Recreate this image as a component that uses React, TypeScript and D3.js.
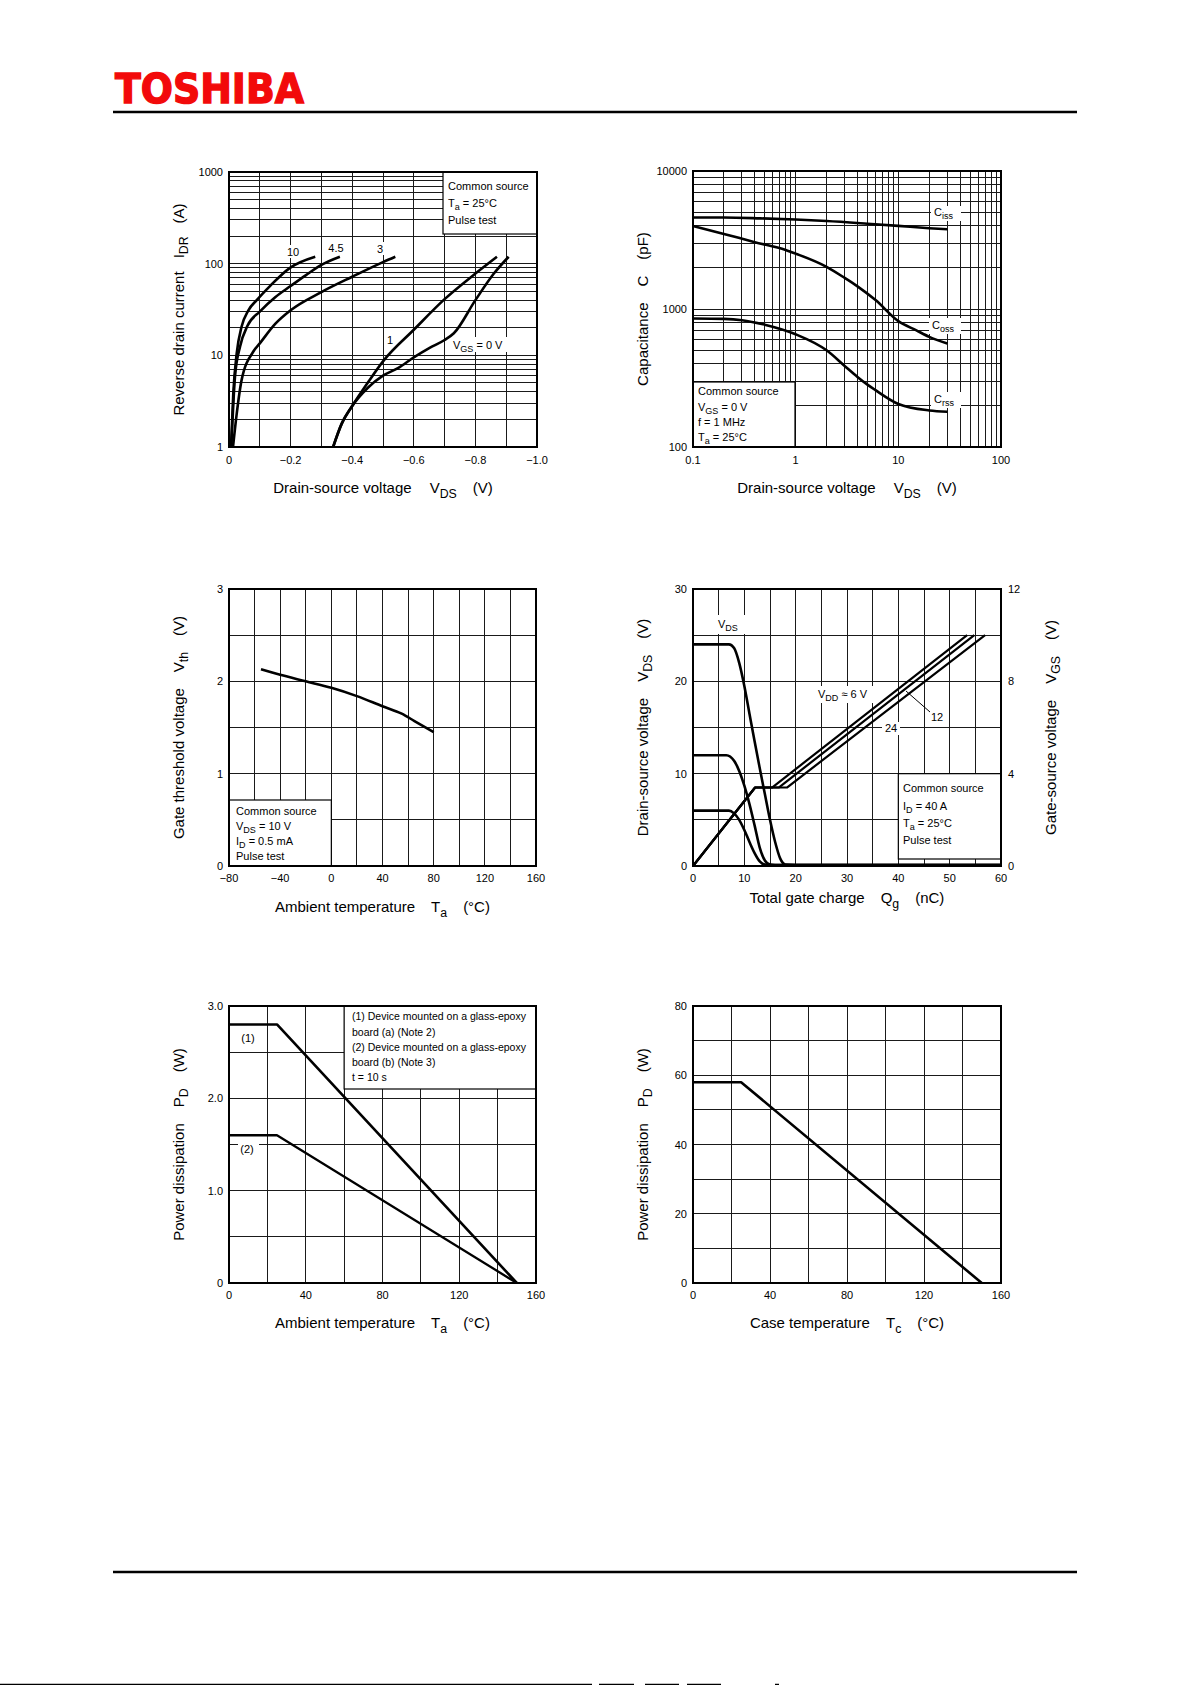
import React from 'react';
import * as d3 from 'd3';

type Pt = [number, number];

// ===== Chart 1: Reverse drain current vs VDS (|VDS|, V ; IDR, A) =====
const idrVgs10: Pt[] = [[0.0065, 1], [0.014, 3.9], [0.025, 10.5], [0.041, 20.6], [0.063, 31], [0.09, 40], [0.133, 57], [0.198, 90], [0.28, 119]];
const idrVgs45: Pt[] = [[0.0075, 1], [0.0195, 5.9], [0.036, 12.5], [0.06, 21], [0.1, 30], [0.15, 43], [0.2, 57], [0.25, 75], [0.3, 97], [0.36, 119]];
const idrVgs3: Pt[] = [[0.013, 1], [0.025, 2.3], [0.041, 5.4], [0.079, 11], [0.1, 13.5], [0.15, 22], [0.2, 31], [0.3, 49], [0.4, 72], [0.5, 104], [0.54, 119]];
const idrVgs1: Pt[] = [[0.338, 1], [0.366, 1.8], [0.4, 2.8], [0.45, 5.0], [0.5, 8.6], [0.6, 19], [0.7, 41], [0.8, 78], [0.87, 119]];
const idrVgs0: Pt[] = [[0.338, 1], [0.366, 1.8], [0.4, 2.8], [0.45, 4.4], [0.5, 6.0], [0.55, 7.3], [0.6, 9.5], [0.65, 12], [0.7, 14.7], [0.73, 17.4], [0.8, 40], [0.86, 78], [0.908, 119]];
const idrXTicks = [0, 0.2, 0.4, 0.6, 0.8, 1.0];
const idrXTickLabels = ['0', '\u22120.2', '\u22120.4', '\u22120.6', '\u22120.8', '\u22121.0'];
const idrYTicks = [1, 10, 100, 1000];

// ===== Chart 2: Capacitance vs VDS =====
const capCiss: Pt[] = [[0.1, 4600], [0.2, 4600], [0.45, 4540], [1, 4450], [2, 4340], [5, 4150], [10, 4000], [20, 3850], [30, 3780]];
const capCoss: Pt[] = [[0.1, 3990], [0.2, 3500], [0.4, 3050], [0.8, 2680], [1, 2520], [2, 2020], [3, 1680], [4, 1460], [6, 1160], [10, 817], [15, 700], [20, 628], [30, 562]];
const capCrss: Pt[] = [[0.1, 853], [0.2, 848], [0.3, 830], [0.5, 770], [1, 656], [2, 502], [3, 387], [4, 322], [5, 283], [6, 258], [10, 205], [20, 184], [30, 180]];
const capXTicks = [0.1, 1, 10, 100];
const capYTicks = [100, 1000, 10000];

// ===== Chart 3: Gate threshold voltage vs Ta =====
const vthCurve: Pt[] = [[-55, 2.13], [-40, 2.07], [-20, 2.0], [0, 1.93], [20, 1.84], [40, 1.73], [55, 1.65], [65, 1.57], [80, 1.45]];
const vthXTicks = [-80, -40, 0, 40, 80, 120, 160];
const vthYTicks = [0, 1, 2, 3];

// ===== Chart 4: Gate charge =====
const qgVds24: Pt[] = [[0, 24], [7, 24], [8, 23.6], [9, 22], [10, 19.5], [11, 16.5], [12, 13.5], [13, 10.6], [14, 7.8], [15, 5.0], [16, 2.6], [17, 0.8], [18, 0.15], [20, 0.1], [60, 0.1]];
const qgVds12: Pt[] = [[0, 12], [6.5, 12], [8, 11.4], [9, 10.3], [10, 8.7], [11, 6.7], [12, 4.4], [13, 2.0], [14, 0.6], [15, 0.15], [16, 0.1], [60, 0.1]];
const qgVds6: Pt[] = [[0, 6], [7, 6], [8, 5.7], [9, 5.0], [10, 3.9], [11, 2.6], [12, 1.4], [13, 0.5], [14, 0.15], [15, 0.1], [60, 0.1]];
const qgVgs6: Pt[] = [[0, 0], [12.1, 3.4], [15.4, 3.4], [53.4, 10]];
const qgVgs12: Pt[] = [[0, 0], [12.1, 3.4], [16.7, 3.4], [54.8, 10]];
const qgVgs24: Pt[] = [[0, 0], [12.1, 3.4], [18.3, 3.4], [56.9, 10]];
const qgXTicks = [0, 10, 20, 30, 40, 50, 60];
const qgYLeftTicks = [0, 10, 20, 30];
const qgYRightTicks = [0, 4, 8, 12];

// ===== Chart 5: PD vs Ta =====
const pdaBoardA: Pt[] = [[0, 2.8], [25, 2.8], [150, 0]];
const pdaBoardB: Pt[] = [[0, 1.6], [25, 1.6], [150, 0]];
const pdaXTicks = [0, 40, 80, 120, 160];
const pdaYTicks = [0, 1, 2, 3];
const pdaYTickLabels = ['0', '1.0', '2.0', '3.0'];

// ===== Chart 6: PD vs Tc =====
const pdcCurve: Pt[] = [[0, 58], [25, 58], [150, 0]];
const pdcXTicks = [0, 40, 80, 120, 160];
const pdcYTicks = [0, 20, 40, 60, 80];

const FONT = "'Liberation Sans', Arial, Helvetica, sans-serif";
const W = 1191;
const H = 1685;

type Part = { t: string; sub?: boolean; dx?: number };
type R = { x: number; y: number; w: number; h: number };

function Txt({ x, y, parts, size = 11, anchor = 'start', rotate = false }: { x: number; y: number; parts: Part[]; size?: number; anchor?: string; rotate?: boolean }) {
  const sd = size * 0.3;
  let cur = 0;
  const kids = parts.map((p, i) => {
    const target = p.sub ? sd : 0;
    const dy = target - cur;
    cur = target;
    return (
      <tspan key={i} dx={p.dx || 0} dy={dy} fontSize={p.sub ? size * 0.82 : size}>
        {p.t}
      </tspan>
    );
  });
  return (
    <text
      x={x}
      y={y}
      fontSize={size}
      textAnchor={anchor as any}
      fontFamily={FONT}
      fill="#000"
      style={{ whiteSpace: 'pre' }}
      transform={rotate ? `rotate(-90 ${x} ${y})` : undefined}
    >
      {kids}
    </text>
  );
}

function logGrid(lo: number, hi: number): number[] {
  const out: number[] = [];
  for (let d = lo; d < hi; d *= 10) {
    for (let k = 1; k < 10; k++) {
      const v = k * d;
      if (v > lo * 1.0001 && v < hi * 0.9999) out.push(v);
    }
  }
  return out;
}

function Grid({ r, xs, ys, sx, sy }: { r: R; xs: number[]; ys: number[]; sx: (v: number) => number; sy: (v: number) => number }) {
  return (
    <g stroke="#1a1a1a" strokeWidth={1} shapeRendering="crispEdges">
      {xs.map((v, i) => (
        <line key={'x' + i} x1={sx(v)} x2={sx(v)} y1={r.y} y2={r.y + r.h} />
      ))}
      {ys.map((v, i) => (
        <line key={'y' + i} x1={r.x} x2={r.x + r.w} y1={sy(v)} y2={sy(v)} />
      ))}
    </g>
  );
}

function Frame({ r }: { r: R }) {
  return <rect x={r.x} y={r.y} width={r.w} height={r.h} fill="none" stroke="#000" strokeWidth={2} />;
}

function Curve({ data, sx, sy, curve = d3.curveMonotoneX, w = 2.6 }: { data: Pt[]; sx: (v: number) => number; sy: (v: number) => number; curve?: any; w?: number }) {
  const gen = d3
    .line<Pt>()
    .x((d) => sx(d[0]))
    .y((d) => sy(d[1]))
    .curve(curve);
  return <path d={gen(data) || ''} fill="none" stroke="#000" strokeWidth={w} strokeLinejoin="round" />;
}

function Box({ x, y, w, h }: { x: number; y: number; w: number; h: number }) {
  return <rect x={x} y={y} width={w} height={h} fill="#fff" stroke="#000" strokeWidth={1.2} />;
}

function Blank({ x, y, w, h }: { x: number; y: number; w: number; h: number }) {
  return <rect x={x} y={y} width={w} height={h} fill="#fff" />;
}

function XTicks({ r, vals, labels, sx, dy = 17 }: { r: R; vals: number[]; labels: string[]; sx: (v: number) => number; dy?: number }) {
  return (
    <g>
      {vals.map((v, i) => (
        <Txt key={i} x={sx(v)} y={r.y + r.h + dy} parts={[{ t: labels[i] }]} anchor="middle" />
      ))}
    </g>
  );
}

function YTicks({ x, vals, labels, sy, anchor = 'end' }: { x: number; vals: number[]; labels: string[]; sy: (v: number) => number; anchor?: string }) {
  return (
    <g>
      {vals.map((v, i) => (
        <Txt key={i} x={x} y={sy(v) + 4} parts={[{ t: labels[i] }]} anchor={anchor} />
      ))}
    </g>
  );
}

function ChartIdr() {
  const r: R = { x: 229, y: 172, w: 308, h: 275 };
  const sx = d3.scaleLinear().domain([0, 1]).range([r.x, r.x + r.w]);
  const sy = d3.scaleLog().domain([1, 1000]).range([r.y + r.h, r.y]);
  const gx = d3.range(1, 10).map((i) => i / 10);
  const gy = [...logGrid(1, 1000), 10, 100];
  return (
    <g>
      <Grid r={r} xs={gx} ys={gy} sx={sx} sy={sy} />
      <Box x={443} y={r.y} w={r.x + r.w - 443} h={62} />
      <Txt x={448} y={190} parts={[{ t: 'Common source' }]} />
      <Txt x={448} y={207} parts={[{ t: 'T' }, { t: 'a', sub: true }, { t: ' = 25°C' }]} />
      <Txt x={448} y={224} parts={[{ t: 'Pulse test' }]} />
      <Blank x={285} y={245} w={16} h={13} />
      <Blank x={327} y={241} w={18} h={13} />
      <Blank x={376} y={242} w={9} h={13} />
      <Blank x={386} y={333} w={9} h={13} />
      <Blank x={451} y={337} w={57} h={15} />
      {[idrVgs10, idrVgs45, idrVgs3, idrVgs1, idrVgs0].map((d, i) => (
        <Curve key={i} data={d} sx={sx} sy={sy} />
      ))}
      <Txt x={293} y={256} parts={[{ t: '10' }]} anchor="middle" />
      <Txt x={336} y={252} parts={[{ t: '4.5' }]} anchor="middle" />
      <Txt x={380} y={253} parts={[{ t: '3' }]} anchor="middle" />
      <Txt x={390} y={344} parts={[{ t: '1' }]} anchor="middle" />
      <Txt x={453} y={349} parts={[{ t: 'V' }, { t: 'GS', sub: true }, { t: ' = 0 V' }]} />
      <Frame r={r} />
      <XTicks r={r} vals={idrXTicks} labels={idrXTickLabels} sx={sx} />
      <YTicks x={r.x - 6} vals={idrYTicks} labels={idrYTicks.map(String)} sy={sy} />
      <Txt x={183.5} y={r.y + r.h / 2} rotate anchor="middle" size={15}
        parts={[{ t: 'Reverse drain current' }, { t: 'I', dx: 13 }, { t: 'DR', sub: true }, { t: '(A)', dx: 13 }]} />
      <Txt x={r.x + r.w / 2} y={r.y + r.h + 46} anchor="middle" size={15}
        parts={[{ t: 'Drain-source voltage' }, { t: 'V', dx: 18 }, { t: 'DS', sub: true }, { t: '(V)', dx: 16 }]} />
    </g>
  );
}

function ChartCap() {
  const r: R = { x: 693, y: 171, w: 308, h: 276 };
  const sx = d3.scaleLog().domain([0.1, 100]).range([r.x, r.x + r.w]);
  const sy = d3.scaleLog().domain([100, 10000]).range([r.y + r.h, r.y]);
  const gx = [...logGrid(0.1, 100), 1, 10];
  const gy = [...logGrid(100, 10000), 1000];
  return (
    <g>
      <Grid r={r} xs={gx} ys={gy} sx={sx} sy={sy} />
      <Box x={r.x} y={382} w={102} h={r.y + r.h - 382} />
      <Txt x={698} y={395} parts={[{ t: 'Common source' }]} />
      <Txt x={698} y={411} parts={[{ t: 'V' }, { t: 'GS', sub: true }, { t: ' = 0 V' }]} />
      <Txt x={698} y={426} parts={[{ t: 'f = 1 MHz' }]} />
      <Txt x={698} y={441} parts={[{ t: 'T' }, { t: 'a', sub: true }, { t: ' = 25°C' }]} />
      <Blank x={931} y={206} w={30} h={15} />
      <Blank x={929} y={318} w={32} h={16} />
      <Blank x={931} y={392} w={30} h={16} />
      {[capCiss, capCoss, capCrss].map((d, i) => (
        <Curve key={i} data={d} sx={sx} sy={sy} />
      ))}
      <Txt x={934} y={216} parts={[{ t: 'C' }, { t: 'iss', sub: true }]} />
      <Txt x={932} y={329} parts={[{ t: 'C' }, { t: 'oss', sub: true }]} />
      <Txt x={934} y={403} parts={[{ t: 'C' }, { t: 'rss', sub: true }]} />
      <Frame r={r} />
      <XTicks r={r} vals={capXTicks} labels={capXTicks.map(String)} sx={sx} />
      <YTicks x={r.x - 6} vals={capYTicks} labels={capYTicks.map(String)} sy={sy} />
      <Txt x={647.5} y={r.y + r.h / 2} rotate anchor="middle" size={15}
        parts={[{ t: 'Capacitance' }, { t: 'C', dx: 16 }, { t: '(pF)', dx: 16 }]} />
      <Txt x={r.x + r.w / 2} y={r.y + r.h + 46} anchor="middle" size={15}
        parts={[{ t: 'Drain-source voltage' }, { t: 'V', dx: 18 }, { t: 'DS', sub: true }, { t: '(V)', dx: 16 }]} />
    </g>
  );
}

function ChartVth() {
  const r: R = { x: 229, y: 589, w: 307, h: 277 };
  const sx = d3.scaleLinear().domain([-80, 160]).range([r.x, r.x + r.w]);
  const sy = d3.scaleLinear().domain([0, 3]).range([r.y + r.h, r.y]);
  const gx = d3.range(-60, 160, 20);
  const gy = d3.range(0.5, 3, 0.5);
  const bx = sx(0);
  return (
    <g>
      <Grid r={r} xs={gx} ys={gy} sx={sx} sy={sy} />
      <Box x={r.x} y={800} w={bx - r.x} h={r.y + r.h - 800} />
      <Txt x={236} y={815} parts={[{ t: 'Common source' }]} />
      <Txt x={236} y={830} parts={[{ t: 'V' }, { t: 'DS', sub: true }, { t: ' = 10 V' }]} />
      <Txt x={236} y={845} parts={[{ t: 'I' }, { t: 'D', sub: true }, { t: ' = 0.5 mA' }]} />
      <Txt x={236} y={860} parts={[{ t: 'Pulse test' }]} />
      <Curve data={vthCurve} sx={sx} sy={sy} />
      <Frame r={r} />
      <XTicks r={r} vals={vthXTicks} labels={vthXTicks.map((v) => (v < 0 ? '\u2212' + Math.abs(v) : String(v)))} sx={sx} dy={16} />
      <YTicks x={r.x - 6} vals={vthYTicks} labels={vthYTicks.map(String)} sy={sy} />
      <Txt x={183.5} y={r.y + r.h / 2} rotate anchor="middle" size={15}
        parts={[{ t: 'Gate threshold voltage' }, { t: 'V', dx: 16 }, { t: 'th', sub: true }, { t: '(V)', dx: 16 }]} />
      <Txt x={r.x + r.w / 2} y={r.y + r.h + 46} anchor="middle" size={15}
        parts={[{ t: 'Ambient temperature' }, { t: 'T', dx: 16 }, { t: 'a', sub: true }, { t: '(°C)', dx: 16 }]} />
    </g>
  );
}

function ChartQg() {
  const r: R = { x: 693, y: 589, w: 308, h: 277 };
  const sx = d3.scaleLinear().domain([0, 60]).range([r.x, r.x + r.w]);
  const syL = d3.scaleLinear().domain([0, 30]).range([r.y + r.h, r.y]);
  const syR = d3.scaleLinear().domain([0, 12]).range([r.y + r.h, r.y]);
  const gx = d3.range(5, 60, 5);
  const gy = d3.range(5, 30, 5);
  const bx = sx(40);
  const by = syL(10);
  return (
    <g>
      <Grid r={r} xs={gx} ys={gy} sx={sx} sy={syL} />
      <Box x={bx} y={by} w={r.x + r.w - bx} h={859 - by} />
      <Txt x={903} y={792} parts={[{ t: 'Common source' }]} />
      <Txt x={903} y={810} parts={[{ t: 'I' }, { t: 'D', sub: true }, { t: ' = 40 A' }]} />
      <Txt x={903} y={827} parts={[{ t: 'T' }, { t: 'a', sub: true }, { t: ' = 25°C' }]} />
      <Txt x={903} y={844} parts={[{ t: 'Pulse test' }]} />
      <Blank x={715} y={615} w={30} h={19} />
      <Blank x={882} y={722} w={18} h={13} />
      <Blank x={815} y={686} w={61} h={17} />
      {[qgVds24, qgVds12, qgVds6].map((d, i) => (
        <Curve key={'d' + i} data={d} sx={sx} sy={syL} />
      ))}
      {[qgVgs6, qgVgs12, qgVgs24].map((d, i) => (
        <Curve key={'g' + i} data={d} sx={sx} sy={syR} curve={d3.curveLinear} w={2.2} />
      ))}
      <Txt x={718} y={628} parts={[{ t: 'V' }, { t: 'DS', sub: true }]} />
      <Txt x={818} y={698} parts={[{ t: 'V' }, { t: 'DD', sub: true }, { t: ' \u2248 6 V' }]} />
      <line x1={906} y1={691} x2={930} y2={712} stroke="#000" strokeWidth={1} />
      <Txt x={931} y={721} parts={[{ t: '12' }]} />
      <Txt x={885} y={732} parts={[{ t: '24' }]} />
      <Frame r={r} />
      <XTicks r={r} vals={qgXTicks} labels={qgXTicks.map(String)} sx={sx} dy={16} />
      <YTicks x={r.x - 6} vals={qgYLeftTicks} labels={qgYLeftTicks.map(String)} sy={syL} />
      <YTicks x={r.x + r.w + 7} vals={qgYRightTicks} labels={qgYRightTicks.map(String)} sy={syR} anchor="start" />
      <Txt x={647.5} y={r.y + r.h / 2} rotate anchor="middle" size={15}
        parts={[{ t: 'Drain-source voltage' }, { t: 'V', dx: 16 }, { t: 'DS', sub: true }, { t: '(V)', dx: 16 }]} />
      <Txt x={1055.5} y={r.y + r.h / 2} rotate anchor="middle" size={15}
        parts={[{ t: 'Gate-source voltage' }, { t: 'V', dx: 16 }, { t: 'GS', sub: true }, { t: '(V)', dx: 16 }]} />
      <Txt x={r.x + r.w / 2} y={r.y + r.h + 37} anchor="middle" size={15}
        parts={[{ t: 'Total gate charge' }, { t: 'Q', dx: 16 }, { t: 'g', sub: true }, { t: '(nC)', dx: 16 }]} />
    </g>
  );
}

function ChartPdA() {
  const r: R = { x: 229, y: 1006, w: 307, h: 277 };
  const sx = d3.scaleLinear().domain([0, 160]).range([r.x, r.x + r.w]);
  const sy = d3.scaleLinear().domain([0, 3]).range([r.y + r.h, r.y]);
  const gx = d3.range(20, 160, 20);
  const gy = d3.range(0.5, 3, 0.5);
  const bx = sx(60);
  return (
    <g>
      <Grid r={r} xs={gx} ys={gy} sx={sx} sy={sy} />
      <Box x={bx} y={r.y} w={r.x + r.w - bx} h={83} />
      <Txt x={352} y={1020} size={10.5} parts={[{ t: '(1) Device mounted on a glass-epoxy' }]} />
      <Txt x={352} y={1035.5} size={10.5} parts={[{ t: 'board (a) (Note 2)' }]} />
      <Txt x={352} y={1050.5} size={10.5} parts={[{ t: '(2) Device mounted on a glass-epoxy' }]} />
      <Txt x={352} y={1065.5} size={10.5} parts={[{ t: 'board (b) (Note 3)' }]} />
      <Txt x={352} y={1081} size={10.5} parts={[{ t: 't = 10 s' }]} />
      <Blank x={238} y={1142} w={21} h={15} />
      <Curve data={pdaBoardA} sx={sx} sy={sy} curve={d3.curveLinear} />
      <Curve data={pdaBoardB} sx={sx} sy={sy} curve={d3.curveLinear} w={2.3} />
      <Txt x={248} y={1042} parts={[{ t: '(1)' }]} anchor="middle" />
      <Txt x={247} y={1153} parts={[{ t: '(2)' }]} anchor="middle" />
      <Frame r={r} />
      <XTicks r={r} vals={pdaXTicks} labels={pdaXTicks.map(String)} sx={sx} dy={16} />
      <YTicks x={r.x - 6} vals={pdaYTicks} labels={pdaYTickLabels} sy={sy} />
      <Txt x={183.5} y={r.y + r.h / 2} rotate anchor="middle" size={15}
        parts={[{ t: 'Power dissipation' }, { t: 'P', dx: 16 }, { t: 'D', sub: true }, { t: '(W)', dx: 16 }]} />
      <Txt x={r.x + r.w / 2} y={r.y + r.h + 45} anchor="middle" size={15}
        parts={[{ t: 'Ambient temperature' }, { t: 'T', dx: 16 }, { t: 'a', sub: true }, { t: '(°C)', dx: 16 }]} />
    </g>
  );
}

function ChartPdC() {
  const r: R = { x: 693, y: 1006, w: 308, h: 277 };
  const sx = d3.scaleLinear().domain([0, 160]).range([r.x, r.x + r.w]);
  const sy = d3.scaleLinear().domain([0, 80]).range([r.y + r.h, r.y]);
  const gx = d3.range(20, 160, 20);
  const gy = d3.range(10, 80, 10);
  return (
    <g>
      <Grid r={r} xs={gx} ys={gy} sx={sx} sy={sy} />
      <Curve data={pdcCurve} sx={sx} sy={sy} curve={d3.curveLinear} />
      <Frame r={r} />
      <XTicks r={r} vals={pdcXTicks} labels={pdcXTicks.map(String)} sx={sx} dy={16} />
      <YTicks x={r.x - 6} vals={pdcYTicks} labels={pdcYTicks.map(String)} sy={sy} />
      <Txt x={647.5} y={r.y + r.h / 2} rotate anchor="middle" size={15}
        parts={[{ t: 'Power dissipation' }, { t: 'P', dx: 16 }, { t: 'D', sub: true }, { t: '(W)', dx: 16 }]} />
      <Txt x={r.x + r.w / 2} y={r.y + r.h + 45} anchor="middle" size={15}
        parts={[{ t: 'Case temperature' }, { t: 'T', dx: 16 }, { t: 'c', sub: true }, { t: '(°C)', dx: 16 }]} />
    </g>
  );
}

export default function App() {
  return (
    <svg width={W} height={H} style={{ position: 'absolute', left: 0, top: 0, background: '#fff' }} fontFamily={FONT}>
      <rect width={W} height={H} fill="#fff" />
      <text x={115} y={103} fontSize={40} fontWeight="bold" fill="#f20a0a" stroke="#f20a0a" strokeWidth={1.4}
        fontFamily="'DejaVu Sans', 'Liberation Sans', sans-serif" textLength={189} lengthAdjust="spacingAndGlyphs">
        TOSHIBA
      </text>
      <line x1={113} x2={1077} y1={112} y2={112} stroke="#000" strokeWidth={2.5} />
      <ChartIdr />
      <ChartCap />
      <ChartVth />
      <ChartQg />
      <ChartPdA />
      <ChartPdC />
      <line x1={113} x2={1077} y1={1572} y2={1572} stroke="#000" strokeWidth={2.5} />
      <g stroke="#000" strokeWidth={1.5}>
        <line x1={0} x2={592} y1={1684.5} y2={1684.5} />
        <line x1={599} x2={634} y1={1684.5} y2={1684.5} />
        <line x1={645} x2={679} y1={1684.5} y2={1684.5} />
        <line x1={687} x2={721} y1={1684.5} y2={1684.5} />
        <line x1={775} x2={779} y1={1684.5} y2={1684.5} />
      </g>
    </svg>
  );
}
